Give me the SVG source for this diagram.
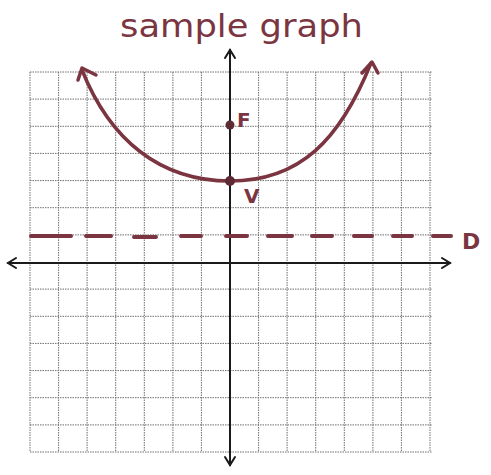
<svg xmlns="http://www.w3.org/2000/svg" width="491" height="475" viewBox="0 0 491 475">
<style>
.grid{stroke:#6e6e6e;stroke-width:1;stroke-dasharray:1.5 1;fill:none}
.axis{stroke:#1a1a1a;stroke-width:2;fill:none;stroke-linecap:round}
.curve{stroke:#7b3541;stroke-width:3.5;fill:none;stroke-linecap:round;stroke-linejoin:round}
.dash{stroke:#7b3541;stroke-width:4;fill:none;stroke-linecap:round}
.lbl{font-family:"DejaVu Sans","Liberation Sans",sans-serif;fill:#7b3541}
.pt{fill:#5e2a33}
</style>
<rect width="491" height="475" fill="#ffffff"/>
<g id="grid">
<path class="grid" d="M30 72V452M58.6 72V452M87.1 72V452M115.7 72V452M144.3 72V452M172.9 72V452M201.4 72V452M258.6 72V452M287.1 72V452M315.7 72V452M344.3 72V452M372.9 72V452M401.4 72V452M430 72V452"/>
<path class="grid" d="M30 72H432M30 99.1H432M30 126.3H432M30 153.4H432M30 180.6H432M30 207.7H432M30 234.9H432M30 289.1H432M30 316.3H432M30 343.4H432M30 370.6H432M30 397.7H432M30 424.9H432M30 452H432"/>
</g>
<g id="axes">
<path class="axis" d="M230 50V465"/>
<path class="axis" d="M225 58L230 50L235 58M225 457L230 465L235 457"/>
<path class="axis" d="M8 263H450"/>
<path class="axis" d="M16 258L8 263L16 268M442 258L450 263L442 268"/>
</g>
<g id="title">
<text class="lbl" x="120" y="37" font-size="32" textLength="243" lengthAdjust="spacingAndGlyphs">sample graph</text>
</g>
<g id="connectors">
<path class="curve" d="M82 70C110 140 160 181 230 181C300 181 340 140 371 63"/>
<path class="curve" d="M78 80L82 68L96 75M362 73L372 62L378 73"/>
</g>
<g id="directrix">
<path class="dash" d="M31 236H71M86 236H111M134 237H156M181 236H201M226 236H247M268 236H292M312 236H332M354 236H372M393 236H412M433 236H451"/>
</g>
<g id="node-F">
<circle class="pt" cx="230" cy="125" r="4.5"/>
<text class="lbl" x="237" y="127" font-size="20" font-weight="bold">F</text>
</g>
<g id="node-V">
<circle class="pt" cx="230" cy="181" r="5"/>
<text class="lbl" x="244" y="203" font-size="20" font-weight="bold">V</text>
</g>
<g id="node-D">
<text class="lbl" x="462" y="249" font-size="22" font-weight="bold">D</text>
</g>
</svg>
